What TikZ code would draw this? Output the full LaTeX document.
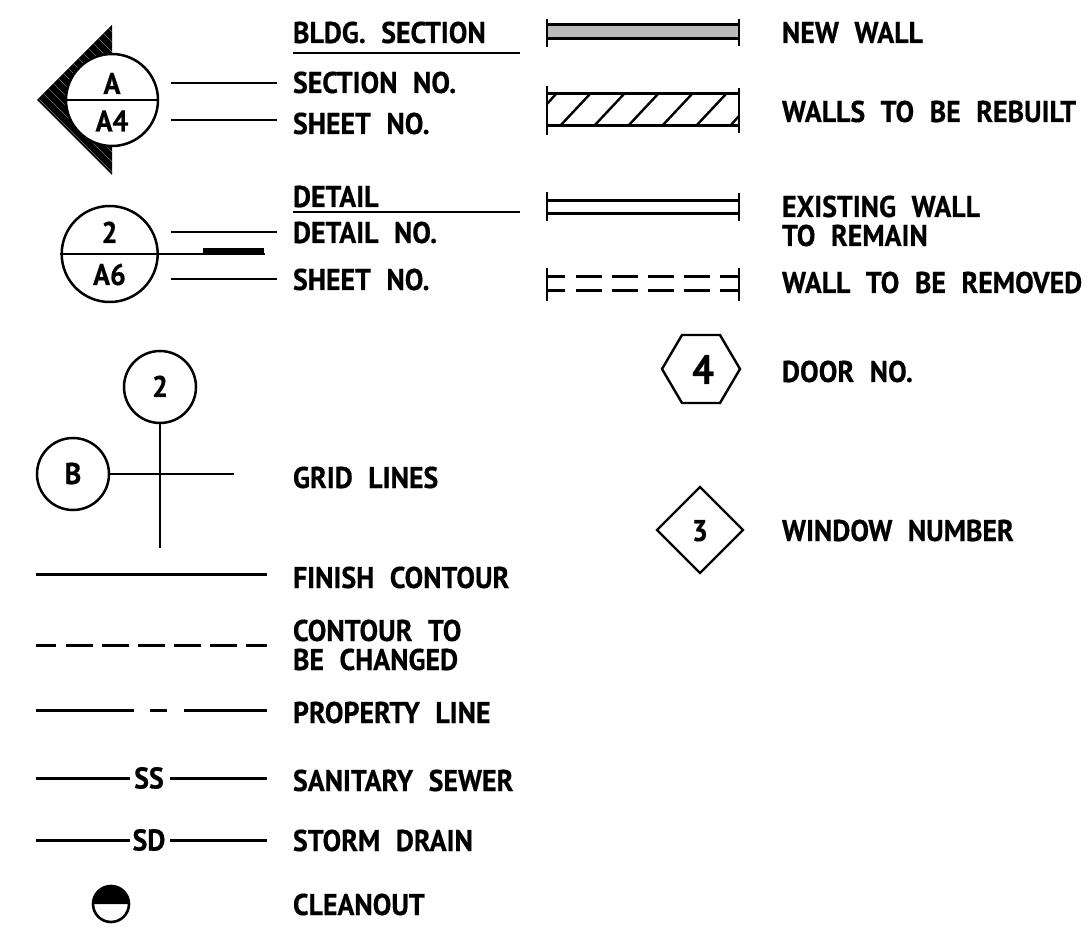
\documentclass[tikz,border=0pt]{standalone}
\usepackage{fontspec}
\setmainfont[WordSpace=2.2,FakeStretch=0.93,BoldFeatures={FakeBold=0.5}]{PT Sans}
\tikzset{
  x=1pt,y=-1pt,
  lbl/.style={anchor=base west,inner sep=0pt,outer sep=0pt,font=\fontsize{30}{30}\selectfont\bfseries},
  sym/.style={anchor=base,inner sep=0pt,outer sep=0pt,font=\fontsize{30}{30}\selectfont\bfseries},
  ln/.style={line width=2.4pt,line cap=butt},
  thk/.style={line width=3pt},
  bub/.style={circle,draw,line width=2.5pt,inner sep=0pt,fill=white}
}
\begin{document}
\begin{tikzpicture}
\useasboundingbox (0,0) rectangle (1088,933);
% section marker
\coordinate (tipA) at (37,100); \coordinate (topA) at (112,25); \coordinate (botA) at (112,175);
\fill[black] (tipA)--(topA)--(botA)--cycle;
\begin{scope}
\clip (tipA)--(topA)--(botA)--cycle;
\foreach \a in {-60,-50,...,120}{\draw[black!55,line width=.4pt] (\a,0)--(\a+180,180);}
\end{scope}
\node[bub,minimum size=92pt] (secC) at (112,100) {};
\draw[ln] (secC.west)--(secC.east);
\node[sym] (secA) at (112,94) {A};
\node[sym] (secB) at (112,131.5) {A4};
% detail marker
\node[bub,minimum size=96pt] (detC) at (109.7,254) {};
\coordinate (detE) at (265,254);
\coordinate (barL) at (203,250.8); \coordinate (barR) at (264,250.8);
\draw[line width=5pt] (barL)--(barR);
\draw[ln] (detC.west)--(detE);
\node[sym] (det2) at (109.5,243) {2};
\node[sym] (det6) at (109.5,285) {A6};
% leader and labels
\node[lbl] (tBldg) at (293,43) {BLDG. SECTION};
\node[lbl] (tSec) at (293,93) {SECTION NO.};
\node[lbl] (tSh1) at (293,134) {SHEET NO.};
\node[lbl] (tDet) at (293,207) {DETAIL};
\node[lbl] (tDetN) at (293,243) {DETAIL NO.};
\node[lbl] (tSh2) at (293,290) {SHEET NO.};
\node[lbl] (tGrid) at (293,488) {GRID LINES};
\node[lbl] (tFin) at (293,588) {FINISH CONTOUR};
\node[lbl] (tCon1) at (293,641) {CONTOUR TO};
\node[lbl] (tCon2) at (293,670) {BE CHANGED};
\node[lbl] (tProp) at (293,723) {PROPERTY LINE};
\node[lbl] (tSan) at (293,791) {SANITARY SEWER};
\node[lbl] (tSto) at (293,851) {STORM DRAIN};
\node[lbl] (tCle) at (293,915) {CLEANOUT};
\node[lbl] (tNew) at (782,43) {NEW WALL};
\node[lbl] (tReb) at (782,122) {WALLS TO BE REBUILT};
\node[lbl] (tEx1) at (782,217) {EXISTING WALL};
\node[lbl] (tEx2) at (782,246) {TO REMAIN};
\node[lbl] (tRem) at (782,293) {WALL TO BE REMOVED};
\node[lbl] (tDoor) at (782,382) {DOOR NO.};
\node[lbl] (tWin) at (782,541) {WINDOW NUMBER};
\draw[ln] (171,83)--(277,83);
\draw[ln] (171,120)--(277,120);
\draw[ln] (171,232)--(277,232);
\draw[ln] (171,279)--(277,279);
\draw[ln] (293,53)--(520,53);
\draw[ln] (293,212)--(520,212);
% new wall
\fill[black!27] (547,25)rectangle(739,39);
\draw[thk] (547,25)--(739,25) (547,39)--(739,39);
\draw[ln] (547,19)--(547,47) (739,19)--(739,46);
% rebuilt
\draw[thk] (547,94)--(739,94) (547,126)--(739,126);
\draw[ln] (547,86)--(547,135) (739,88)--(739,133);
\draw[ln] (547,104)--(556,94);
\foreach \a in {590,624,658,692,726}{\draw[ln] (\a-30,126)--(\a,94);}
\draw[ln] (730,126)--(739,116);
% existing
\draw[thk] (547,200.5)--(739,200.5) (547,214)--(739,214);
\draw[ln] (547,192)--(547,221) (739,193)--(739,221);
% removed
\draw[ln] (547,268)--(547,301) (739,268)--(739,301);
\foreach \a/\b in {547/565,576/602,612/638,648/674,684/710,720/739}{\draw[thk] (\a,277)--(\b,277) (\a,291)--(\b,291);}
% door
\node[anchor=base,inner sep=0pt,font=\fontsize{41}{41}\selectfont\bfseries] (doorN) at (703,384) {4};
\draw[ln,line join=miter] (662,369)--(682,335)--(720,335)--(740,369)--(720,403)--(682,403)--cycle;
% window
\draw[ln] (657,530)--(700,487)--(743,530)--(700,573)--cycle;
\node[sym] (winN) at (700,541) {3};
% grid
\node[bub,minimum size=72pt] (g2) at (160,387) {};
\node[bub,minimum size=72pt] (gB) at (73,474) {};
\coordinate (gS) at (160,548); \coordinate (gE) at (234,474);
\draw[ln] (g2.south)--(gS);
\draw[ln] (gB.east)--(gE);
\node[sym] at (160,397) {2};
\node[sym] at (73,484) {B};
% contours
\draw[thk] (36,574.5)--(267,574.5);
\foreach \a/\b in {36/56,66/93,102/129,138/165,174/201,210/237,246/267}{\draw[thk] (\a,645)--(\b,645);}
\draw[thk] (36,710)--(134,710) (150,710)--(167,710) (184,710)--(267,710);
\draw[thk] (36,778)--(130,778) (170,778)--(267,778);
\node[sym] at (149,788.5) {SS};
\draw[thk] (36,840)--(130,840) (170,840)--(267,840);
\node[sym] at (149,850.5) {SD};
% cleanout
\draw[line width=2.6pt,fill=white] (111,904) circle (18);
\fill (93,904) arc (180:360:18) -- cycle;
\end{tikzpicture}
\end{document}
